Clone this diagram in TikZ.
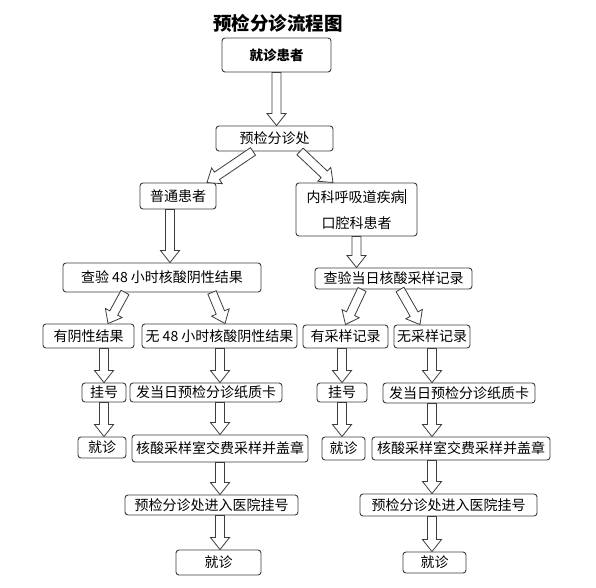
\documentclass[tikz,border=0pt]{standalone}
\usepackage{fontspec}
\setmainfont{Noto Sans CJK SC}
\usepackage{xcolor}
\definecolor{boxline}{RGB}{60, 60, 60}
\usetikzlibrary{calc}

% hollow block arrow between two points
\newcommand{\blockarrow}[2]{%
  \coordinate (ba) at (#1);
  \coordinate (bb) at (#2);
  \coordinate (bh) at ($(bb)!12pt!(ba)$);
  \draw[barrow] ($(ba)!4.5pt!90:(bb)$) -- ($(bh)!4.5pt!90:(bb)$) -- ($(bh)!9.5pt!90:(bb)$)
    -- (bb) -- ($(bh)!9.5pt!-90:(bb)$) -- ($(bh)!4.5pt!-90:(bb)$) -- ($(ba)!4.5pt!-90:(bb)$) -- cycle;
}

\begin{document}
\begin{tikzpicture}[
    x=1pt, y=1pt,
    box/.style={draw=boxline, line width=0.9pt, rounded corners=3pt, inner sep=0pt,
        font=\fontsize{14}{16}\selectfont},
    barrow/.style={draw=boxline, line width=0.8pt, fill=white, line join=miter}
]
\useasboundingbox (0,0) rectangle (596,587);

% Titulo
\node[font=\fontsize{18.5}{20}\selectfont\bfseries] (title) at (278,564) {预检分诊流程图};

% Cabecera
\node[box, minimum width=109pt, minimum height=34pt, font=\fontsize{13.5}{15}\selectfont\bfseries] (n1) at (276.5,532) {就诊患者};
\node[box, minimum width=117pt, minimum height=25pt] (n2) at (274.5,448.5) {预检分诊处};
\node[box, minimum width=76pt, minimum height=26pt] (n3) at (178,391) {普通患者};
\node[box, minimum width=121pt, minimum height=53pt, align=center, font=\fontsize{14}{26}\selectfont] (n4) at (356.5,377.5)
    {内科呼吸道疾病\rule[-2pt]{1.6pt}{15pt}\\口腔科患者};
\node[box, minimum width=198pt, minimum height=29pt] (n5) at (162,309.5) {查验 48 小时核酸阴性结果};
\node[box, minimum width=157pt, minimum height=21pt] (n6) at (393.5,308.5) {查验当日核酸采样记录};

% Rama izquierda
\node[box, minimum width=91pt, minimum height=24pt] (n7) at (88.5,251) {有阴性结果};
\node[box, minimum width=155pt, minimum height=24pt] (n8) at (219.5,251) {无 48 小时核酸阴性结果};
\node[box, minimum width=44pt, minimum height=19pt] (n11) at (104,194.5) {挂号};
\node[box, minimum width=152pt, minimum height=19pt] (n12) at (206,194.5) {发当日预检分诊纸质卡};
\node[box, minimum width=48pt, minimum height=21pt] (n13) at (102,139.5) {就诊};
\node[box, minimum width=176pt, minimum height=27pt] (n14) at (220,138.5) {核酸采样室交费采样并盖章};
\node[box, minimum width=173pt, minimum height=20pt] (n15) at (211.5,82) {预检分诊处进入医院挂号};
\node[box, minimum width=85pt, minimum height=25pt] (n16) at (218.5,24.5) {就诊};

% Rama derecha
\node[box, minimum width=85pt, minimum height=23pt] (n9) at (345.5,250.5) {有采样记录};
\node[box, minimum width=76pt, minimum height=23pt] (n10) at (432,250.5) {无采样记录};
\node[box, minimum width=50pt, minimum height=19pt] (n17) at (342,194.5) {挂号};
\node[box, minimum width=152pt, minimum height=20pt] (n18) at (459,194) {发当日预检分诊纸质卡};
\node[box, minimum width=43pt, minimum height=23pt] (n19) at (343.5,138.5) {就诊};
\node[box, minimum width=178pt, minimum height=23pt] (n20) at (461,138.5) {核酸采样室交费采样并盖章};
\node[box, minimum width=177pt, minimum height=22pt] (n21) at (448.5,82) {预检分诊处进入医院挂号};
\node[box, minimum width=63pt, minimum height=21pt] (n22) at (434.5,24.5) {就诊};

% Flechas superiores
\blockarrow{n1.south}{n2.north -| n1.south}
\blockarrow{[xshift=-21.5pt]n2.south}{[xshift=29pt]n3.north}
\blockarrow{[xshift=25.5pt]n2.south}{[xshift=-23.5pt]n4.north}
\blockarrow{[xshift=-8pt]n3.south}{[xshift=8pt]n5.north}
\blockarrow{n4.south}{n6.north -| n4.south}

% Flechas izquierda
\blockarrow{[xshift=-37pt]n5.south}{[xshift=19.5pt]n7.north}
\blockarrow{[xshift=50pt]n5.south}{[xshift=5.5pt]n8.north}
\blockarrow{n7.south -| n11.north}{n11.north}
\blockarrow{n8.south -| n14.north}{n12.north -| n14.north}
\blockarrow{n11.south}{n13.north -| n11.south}
\blockarrow{n12.south -| n14.north}{n14.north}
\blockarrow{n14.south}{n15.north -| n14.south}
\blockarrow{n15.south -| n14.south}{n16.north -| n14.south}

% Flechas derecha
\blockarrow{[xshift=-31.5pt]n6.south}{n9.north}
\blockarrow{[xshift=6.5pt]n6.south}{[xshift=-12pt]n10.north}
\blockarrow{n9.south -| n17.north}{n17.north}
\blockarrow{n10.south}{n18.north -| n10.south}
\blockarrow{n17.south}{n19.north -| n17.south}
\blockarrow{n18.south -| n10.south}{n20.north -| n10.south}
\blockarrow{n20.south -| n10.south}{n21.north -| n10.south}
\blockarrow{n21.south -| n10.south}{n22.north -| n10.south}

\end{tikzpicture}
\end{document}
